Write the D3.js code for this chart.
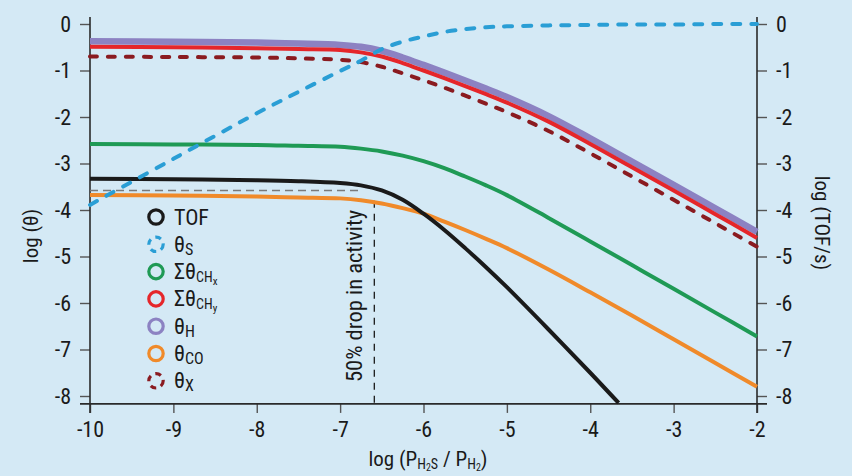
<!DOCTYPE html>
<html>
<head>
<meta charset="utf-8">
<script src="https://cdn.jsdelivr.net/npm/d3@7"></script>
<style>
  html, body { margin: 0; padding: 0; background: #d4e9f5; }
  svg { display: block; }
  text { font-family: "Liberation Sans Narrow", "Roboto Condensed", "Arial Narrow", "Liberation Sans", sans-serif; fill: #1a1a1a; }
</style>
</head>
<body>
<svg id="chart" width="852" height="476"></svg>
<script>
// Pressure-ratio grid, log(P_H2S / P_H2)
const logP = [-10, -9, -8, -7.5, -7, -6.75, -6.5, -6.25, -6, -5.75, -5.5, -5.25, -5, -4.5, -4, -3.5, -3, -2.5, -2];

// Coverages, log(theta)
const thetaS   = [-3.89, -2.90, -1.92, -1.46, -1.01, -0.79, -0.54, -0.38, -0.27, -0.17, -0.11, -0.07, -0.05, -0.03, -0.02, -0.01, -0.01, 0, 0];
const thetaCHx = [-2.58, -2.59, -2.60, -2.62, -2.64, -2.68, -2.74, -2.83, -2.95, -3.10, -3.28, -3.47, -3.68, -4.17, -4.675, -5.185, -5.695, -6.207, -6.72];
const thetaCHy = [-0.49, -0.50, -0.52, -0.54, -0.56, -0.61, -0.70, -0.84, -1.00, -1.165, -1.335, -1.51, -1.69, -2.10, -2.58, -3.08, -3.58, -4.09, -4.60];
const thetaH   = [-0.37, -0.38, -0.40, -0.42, -0.45, -0.49, -0.58, -0.72, -0.88, -1.045, -1.215, -1.39, -1.57, -1.98, -2.46, -2.96, -3.46, -3.965, -4.47];
const thetaCO  = [-3.68, -3.69, -3.71, -3.73, -3.75, -3.79, -3.86, -3.96, -4.08, -4.25, -4.43, -4.62, -4.82, -5.28, -5.77, -6.27, -6.78, -7.29, -7.80];
const thetaX   = [-0.70, -0.71, -0.72, -0.74, -0.77, -0.82, -0.92, -1.06, -1.21, -1.37, -1.54, -1.715, -1.895, -2.30, -2.78, -3.28, -3.78, -4.285, -4.79];

// Turnover frequency, log(TOF/s), on its own grid
const logPTOF = [-10, -9, -8, -7.5, -7, -6.75, -6.5, -6.25, -6, -5.75, -5.5, -5.25, -5, -4.5, -4, -3.66];
const logTOF  = [-3.33, -3.34, -3.36, -3.38, -3.42, -3.47, -3.58, -3.78, -4.08, -4.43, -4.82, -5.23, -5.66, -6.57, -7.50, -8.15];

// 50% activity reference
const halfActivity = { logP: -6.59, logTOF: -3.58 };

const xTicks = [-10, -9, -8, -7, -6, -5, -4, -3, -2];
const yTicks = [0, -1, -2, -3, -4, -5, -6, -7, -8];

const svg = d3.select("#chart");
svg.append("rect").attr("width", 852).attr("height", 476).attr("fill", "#d4e9f5");

const x = d3.scaleLinear().domain([-10, -2]).range([90, 757]);
const y = d3.scaleLinear().domain([0, -8]).range([24, 396]);
const yBottom = y(-8.17);

const line = d3.line().x(d => x(d[0])).y(d => y(d[1])).curve(d3.curveCatmullRom.alpha(0.5));
const zip = (xs, ys) => xs.map((v, i) => [v, ys[i]]);
const fmt = d => String(d);

// Axes
const axisColor = "#2a2a2a";
const left = svg.append("g").attr("transform", `translate(${x(-10)},0)`)
  .call(d3.axisLeft(y).tickValues(yTicks).tickSize(10).tickSizeOuter(0).tickPadding(9).tickFormat(fmt));
const right = svg.append("g").attr("transform", `translate(${x(-2)},0)`)
  .call(d3.axisRight(y).tickValues(yTicks).tickSize(10).tickSizeOuter(0).tickPadding(9).tickFormat(fmt));
const bottom = svg.append("g").attr("transform", `translate(0,${yBottom})`)
  .call(d3.axisBottom(x).tickValues(xTicks).tickSize(9).tickSizeOuter(0).tickPadding(8).tickFormat(fmt));

[left, right, bottom].forEach(g => {
  g.select(".domain").remove();
  g.selectAll(".tick line").attr("stroke", "#555").attr("stroke-width", 1.4);
  g.selectAll(".tick text").attr("font-size", 22).attr("fill", "#1a1a1a").attr("font-family", null);
});

// Axis lines extend a little beyond the tick range
svg.append("line").attr("x1", x(-10)).attr("x2", x(-10)).attr("y1", 17).attr("y2", yBottom + 9)
  .attr("stroke", axisColor).attr("stroke-width", 1.6);
svg.append("line").attr("x1", x(-2)).attr("x2", x(-2)).attr("y1", 17).attr("y2", yBottom + 9)
  .attr("stroke", axisColor).attr("stroke-width", 1.6);
svg.append("line").attr("x1", x(-10) - 10).attr("x2", x(-2) + 10).attr("y1", yBottom).attr("y2", yBottom)
  .attr("stroke", axisColor).attr("stroke-width", 1.6);

// 50% drop in activity guides
svg.append("line")
  .attr("x1", x(-10)).attr("x2", x(halfActivity.logP) - 12)
  .attr("y1", y(halfActivity.logTOF)).attr("y2", y(halfActivity.logTOF))
  .attr("stroke", "#7a7a7a").attr("stroke-width", 1.6).attr("stroke-dasharray", "8,5");
svg.append("line")
  .attr("x1", x(halfActivity.logP)).attr("x2", x(halfActivity.logP))
  .attr("y1", y(-3.8)).attr("y2", yBottom)
  .attr("stroke", "#1a1a1a").attr("stroke-width", 1.3).attr("stroke-dasharray", "7,6");
svg.append("text")
  .attr("transform", `translate(${x(halfActivity.logP) - 12},296) rotate(-90)`)
  .attr("text-anchor", "middle").attr("font-size", 22.5)
  .text("50% drop in activity");

// Series
const series = [
  { xs: logP, ys: thetaH,   color: "#8c82c2", width: 6.5, dash: null },
  { xs: logP, ys: thetaCHy, color: "#e5262a", width: 4,   dash: null },
  { xs: logP, ys: thetaX,   color: "#8a1b20", width: 4,   dash: "7,11" },
  { xs: logP, ys: thetaCHx, color: "#1f9a55", width: 4,   dash: null },
  { xs: logP, ys: thetaCO,  color: "#f08a2a", width: 4,   dash: null },
  { xs: logPTOF, ys: logTOF, color: "#1a1a1a", width: 4,  dash: null },
  { xs: logP, ys: thetaS,   color: "#2a9ed5", width: 4,   dash: "8,11" }
];
series.forEach(s => {
  svg.append("path")
    .attr("d", line(zip(s.xs, s.ys)))
    .attr("fill", "none")
    .attr("stroke", s.color)
    .attr("stroke-width", s.width)
    .attr("stroke-linecap", s.dash ? "round" : "butt")
    .attr("stroke-dasharray", s.dash);
});

// Legend
const legendItems = [
  { color: "#1a1a1a", dash: null,  parts: [["TOF", 0, 22]] },
  { color: "#2a9ed5", dash: "6,5", parts: [["θ", 0, 22], ["S", 3, 16]] },
  { color: "#1f9a55", dash: null,  parts: [["Σθ", 0, 22], ["CH", 3, 14], ["x", 3, 11]] },
  { color: "#e5262a", dash: null,  parts: [["Σθ", 0, 22], ["CH", 3, 14], ["y", 3, 11]] },
  { color: "#8c82c2", dash: null,  parts: [["θ", 0, 22], ["H", 3, 16]] },
  { color: "#f08a2a", dash: null,  parts: [["θ", 0, 22], ["CO", 3, 16]] },
  { color: "#8a1b20", dash: "6,5", parts: [["θ", 0, 22], ["X", 3, 16]] }
];
const legend = svg.append("g");
legendItems.forEach((it, i) => {
  const cy = 217 + i * 27.3;
  legend.append("circle").attr("cx", 156).attr("cy", cy).attr("r", 7.2)
    .attr("fill", "none").attr("stroke", it.color).attr("stroke-width", 3.2)
    .attr("stroke-dasharray", it.dash);
  const t = legend.append("text").attr("x", 174).attr("y", cy + 7.5).attr("font-size", 22);
  it.parts.forEach(p => t.append("tspan").attr("dy", p[1]).attr("font-size", p[2]).text(p[0]));
});

// Axis titles
svg.append("text").attr("transform", "translate(38,236) rotate(-90)")
  .attr("text-anchor", "middle").attr("font-size", 21).text("log (θ)");
svg.append("text").attr("transform", "translate(815,223) rotate(90)")
  .attr("text-anchor", "middle").attr("font-size", 21).text("log (TOF/s)");
const xt = svg.append("text").attr("x", 428).attr("y", 466).attr("text-anchor", "middle").attr("font-size", 21);
xt.append("tspan").text("log (P");
xt.append("tspan").attr("dy", 3).attr("font-size", 14).text("H");
xt.append("tspan").attr("dy", 1.5).attr("font-size", 10).text("2");
xt.append("tspan").attr("dy", -1.5).attr("font-size", 14).text("S");
xt.append("tspan").attr("dy", -3).text(" / P");
xt.append("tspan").attr("dy", 3).attr("font-size", 14).text("H");
xt.append("tspan").attr("dy", 1.5).attr("font-size", 10).text("2");
xt.append("tspan").attr("dy", -4.5).text(")");
</script>
</body>
</html>
